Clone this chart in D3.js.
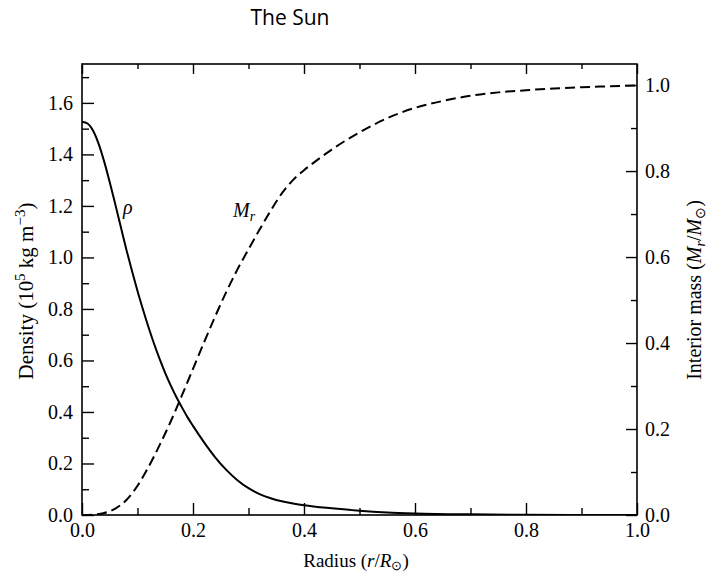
<!DOCTYPE html>
<html>
<head>
<meta charset="utf-8">
<script src="https://cdn.jsdelivr.net/npm/d3@7"></script>
<style>
  html, body { margin: 0; padding: 0; background: #fff; }
  svg { display: block; }
</style>
</head>
<body>
<svg id="chart" width="710" height="576"></svg>
<script>
// ---- data ----
const titleText = "The Sun";
const densityRadius = [0, 0.01, 0.02, 0.03, 0.04, 0.05, 0.06, 0.07, 0.08, 0.09, 0.10, 0.11, 0.12, 0.13, 0.14, 0.15, 0.16, 0.17, 0.18, 0.19, 0.20, 0.22, 0.24, 0.26, 0.28, 0.30, 0.32, 0.34, 0.36, 0.38, 0.40, 0.45, 0.50, 0.55, 0.60, 0.70, 0.80, 0.90, 1.00];
const densityValues = [1.527, 1.520, 1.492, 1.441, 1.372, 1.292, 1.206, 1.118, 1.030, 0.948, 0.870, 0.797, 0.728, 0.664, 0.605, 0.551, 0.502, 0.458, 0.418, 0.380, 0.346, 0.282, 0.224, 0.175, 0.135, 0.104, 0.081, 0.065, 0.053, 0.045, 0.038, 0.026, 0.0165, 0.010, 0.0062, 0.0025, 0.0009, 0.0003, 0.0];
const massRadius = [0, 0.02, 0.04, 0.06, 0.08, 0.10, 0.12, 0.14, 0.16, 0.18, 0.20, 0.22, 0.24, 0.26, 0.28, 0.30, 0.32, 0.34, 0.36, 0.38, 0.40, 0.42, 0.45, 0.50, 0.55, 0.60, 0.65, 0.70, 0.75, 0.80, 0.85, 0.90, 0.95, 1.00];
const massValues = [0, 0.0008, 0.0045, 0.015, 0.035, 0.068, 0.112, 0.163, 0.218, 0.278, 0.340, 0.402, 0.462, 0.519, 0.571, 0.618, 0.664, 0.708, 0.748, 0.779, 0.802, 0.822, 0.850, 0.890, 0.923, 0.947, 0.963, 0.975, 0.983, 0.988, 0.992, 0.995, 0.997, 0.999];
const xMajorTicks = [0, 0.2, 0.4, 0.6, 0.8, 1.0];
const xMinorTicks = [0.1, 0.3, 0.5, 0.7, 0.9];
const leftMajorTicks = [0, 0.2, 0.4, 0.6, 0.8, 1.0, 1.2, 1.4, 1.6];
const leftMinorTicks = [0.1, 0.3, 0.5, 0.7, 0.9, 1.1, 1.3, 1.5, 1.7];
const rightMajorTicks = [0, 0.2, 0.4, 0.6, 0.8, 1.0];
const rightMinorTicks = [0.1, 0.3, 0.5, 0.7, 0.9];

// ---- layout ----
const svg = d3.select("#chart");
const L = 82, R = 637, T = 64, B = 515;
const x = d3.scaleLinear().domain([0, 1]).range([L, R]);
const yL = d3.scaleLinear().domain([0, 1.751]).range([B, T]);
const yR = d3.scaleLinear().domain([0, 1.049]).range([B, T]);
const fmt = d3.format(".1f");
const serif = "'Liberation Serif', 'Times New Roman', serif";

const densityLine = d3.line().x(d => x(d[0])).y(d => yL(d[1])).curve(d3.curveMonotoneX);
const massLine = d3.line().x(d => x(d[0])).y(d => yR(d[1])).curve(d3.curveMonotoneX);

svg.append("clipPath").attr("id", "clip").append("rect")
  .attr("x", L).attr("y", T).attr("width", R - L).attr("height", B - T);

svg.append("path")
  .datum(densityRadius.map((r, i) => [r, densityValues[i]]))
  .attr("d", densityLine)
  .attr("fill", "none").attr("stroke", "#000").attr("stroke-width", 2)
  .attr("clip-path", "url(#clip)");

svg.append("path")
  .datum(massRadius.map((r, i) => [r, massValues[i]]))
  .attr("d", massLine)
  .attr("fill", "none").attr("stroke", "#000").attr("stroke-width", 2)
  .attr("stroke-dasharray", "10,5")
  .attr("clip-path", "url(#clip)");

function styleAxis(g) {
  g.select(".domain").remove();
  g.selectAll(".tick line").attr("stroke", "#000").attr("stroke-width", 1.4);
  g.selectAll(".tick text").attr("font-family", serif).attr("font-size", 20).attr("fill", "#000");
}

// bottom
svg.append("g").attr("transform", `translate(0,${B})`)
  .call(d3.axisBottom(x).tickValues(xMajorTicks).tickFormat(fmt).tickSizeInner(-12).tickSizeOuter(0).tickPadding(8))
  .call(styleAxis);
svg.append("g").attr("transform", `translate(0,${B})`)
  .call(d3.axisBottom(x).tickValues(xMinorTicks).tickFormat("").tickSizeInner(-7).tickSizeOuter(0))
  .call(styleAxis);
// top
svg.append("g").attr("transform", `translate(0,${T})`)
  .call(d3.axisTop(x).tickValues(xMajorTicks).tickFormat("").tickSizeInner(-10).tickSizeOuter(0))
  .call(styleAxis);
svg.append("g").attr("transform", `translate(0,${T})`)
  .call(d3.axisTop(x).tickValues(xMinorTicks).tickFormat("").tickSizeInner(-5).tickSizeOuter(0))
  .call(styleAxis);
// left
svg.append("g").attr("transform", `translate(${L},0)`)
  .call(d3.axisLeft(yL).tickValues(leftMajorTicks).tickFormat(fmt).tickSizeInner(-12).tickSizeOuter(0).tickPadding(9))
  .call(styleAxis);
svg.append("g").attr("transform", `translate(${L},0)`)
  .call(d3.axisLeft(yL).tickValues(leftMinorTicks).tickFormat("").tickSizeInner(-7).tickSizeOuter(0))
  .call(styleAxis);
// right
svg.append("g").attr("transform", `translate(${R},0)`)
  .call(d3.axisRight(yR).tickValues(rightMajorTicks).tickFormat(fmt).tickSizeInner(-11).tickSizeOuter(0).tickPadding(8))
  .call(styleAxis);
svg.append("g").attr("transform", `translate(${R},0)`)
  .call(d3.axisRight(yR).tickValues(rightMinorTicks).tickFormat("").tickSizeInner(-6).tickSizeOuter(0))
  .call(styleAxis);

// frame
svg.append("rect").attr("x", L).attr("y", T).attr("width", R - L).attr("height", B - T)
  .attr("fill", "none").attr("stroke", "#000").attr("stroke-width", 1.6);

// title
svg.append("text").attr("x", 290).attr("y", 25).attr("text-anchor", "middle")
  .attr("font-family", "'Open Sans', sans-serif").attr("font-size", 21).attr("fill", "#000")
  .text(titleText);

// x label
const xl = svg.append("text").attr("x", 356).attr("y", 567).attr("text-anchor", "middle")
  .attr("font-family", serif).attr("font-size", 19).attr("fill", "#000");
xl.append("tspan").text("Radius (");
xl.append("tspan").attr("font-style", "italic").text("r");
xl.append("tspan").text("/");
xl.append("tspan").attr("font-style", "italic").text("R");
xl.append("tspan").attr("font-size", 13).attr("dy", 3).text("⊙");
xl.append("tspan").attr("dy", -3).text(")");

// left label
const yl = svg.append("text").attr("transform", "translate(33,291) rotate(-90)").attr("text-anchor", "middle")
  .attr("font-family", serif).attr("font-size", 21).attr("fill", "#000");
yl.append("tspan").text("Density (10");
yl.append("tspan").attr("font-size", 15).attr("dy", -8).text("5");
yl.append("tspan").attr("dy", 8).text(" kg m");
yl.append("tspan").attr("font-size", 15).attr("dy", -8).text("−3");
yl.append("tspan").attr("dy", 8).text(")");

// right label
const yr = svg.append("text").attr("transform", "translate(701,290) rotate(-90)").attr("text-anchor", "middle")
  .attr("font-family", serif).attr("font-size", 20).attr("fill", "#000");
yr.append("tspan").text("Interior mass (");
yr.append("tspan").attr("font-style", "italic").text("M");
yr.append("tspan").attr("font-style", "italic").attr("font-size", 14).attr("dy", 4).text("r");
yr.append("tspan").attr("dy", -4).text("/");
yr.append("tspan").attr("font-style", "italic").text("M");
yr.append("tspan").attr("font-size", 14).attr("dy", 4).text("⊙");
yr.append("tspan").attr("dy", -4).text(")");

// curve labels
svg.append("text").attr("x", 123).attr("y", 214)
  .attr("font-family", serif).attr("font-style", "italic").attr("font-size", 20).attr("fill", "#000")
  .text("ρ");
const ml = svg.append("text").attr("x", 233).attr("y", 217)
  .attr("font-family", serif).attr("font-style", "italic").attr("font-size", 20).attr("fill", "#000");
ml.append("tspan").text("M");
ml.append("tspan").attr("font-size", 14).attr("dy", 4).text("r");
</script>
</body>
</html>
